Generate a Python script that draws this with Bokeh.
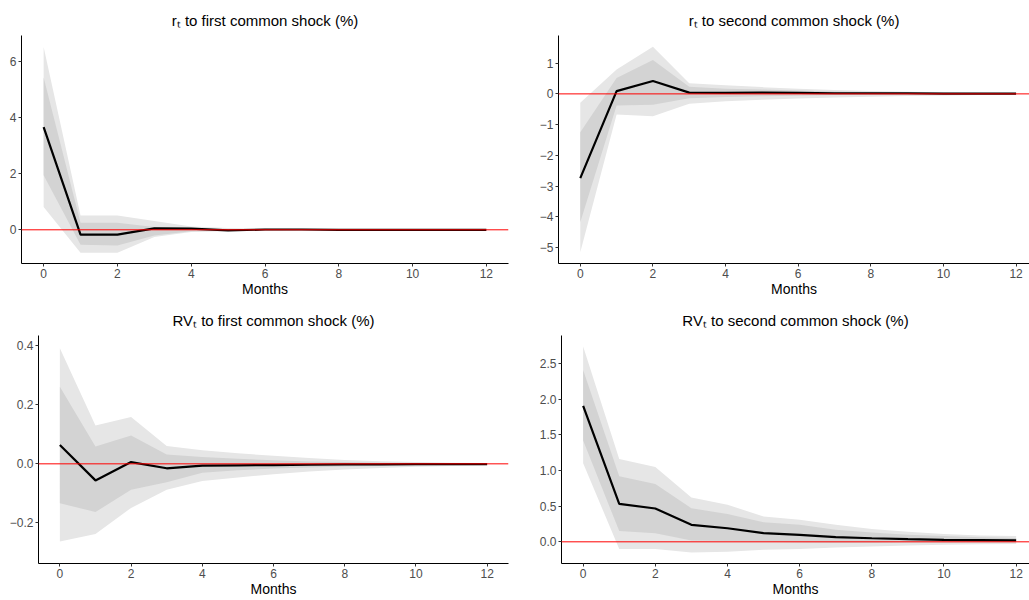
from bokeh.plotting import figure
from bokeh.layouts import column, row
from bokeh.models import Span, FixedTicker
from bokeh.embed import file_html
from bokeh.resources import INLINE

months = list(range(13))
x_ticks = [0, 2, 4, 6, 8, 10, 12]

# Panel 1: r_t to first common shock
r1_irf = [3.66, -0.17, -0.17, 0.05, 0.04, -0.02, 0.01, 0.01, 0.0, 0.0, 0.0, 0.0, 0.0]
r1_lo95 = [0.81, -0.82, -0.82, -0.26, -0.08, -0.05, -0.03, -0.02, -0.01, -0.01, -0.01, 0.0, 0.0]
r1_hi95 = [6.51, 0.51, 0.51, 0.31, 0.12, 0.06, 0.04, 0.03, 0.02, 0.01, 0.01, 0.01, 0.01]
r1_lo68 = [1.94, -0.53, -0.56, -0.20, -0.05, -0.03, -0.02, -0.01, -0.01, 0.0, 0.0, 0.0, 0.0]
r1_hi68 = [5.42, 0.25, 0.25, 0.10, 0.07, 0.03, 0.02, 0.01, 0.01, 0.01, 0.0, 0.0, 0.0]
r1_yticks = [0, 2, 4, 6]
r1_ylabels = ["0", "2", "4", "6"]

# Panel 2: r_t to second common shock
r2_irf = [-2.74, 0.09, 0.42, 0.04, 0.03, 0.04, 0.03, 0.02, 0.02, 0.02, 0.01, 0.01, 0.01]
r2_lo95 = [-5.15, -0.67, -0.73, -0.32, -0.24, -0.19, -0.15, -0.12, -0.09, -0.07, -0.05, -0.04, -0.03]
r2_hi95 = [-0.29, 0.79, 1.53, 0.35, 0.28, 0.22, 0.17, 0.13, 0.09, 0.07, 0.05, 0.04, 0.03]
r2_lo68 = [-4.18, -0.38, -0.35, -0.14, -0.10, -0.08, -0.06, -0.04, -0.03, -0.02, -0.015, -0.01, -0.01]
r2_hi68 = [-1.25, 0.52, 1.10, 0.23, 0.17, 0.14, 0.11, 0.08, 0.06, 0.04, 0.03, 0.02, 0.02]
r2_yticks = [-5, -4, -3, -2, -1, 0, 1]
r2_ylabels = ["\u22125", "\u22124", "\u22123", "\u22122", "\u22121", "0", "1"]

# Panel 3: RV_t to first common shock
rv1_irf = [0.064, -0.056, 0.006, -0.015, -0.006, -0.005, -0.004, -0.003, -0.002, -0.002, -0.001, -0.001, -0.001]
rv1_lo95 = [-0.263, -0.237, -0.149, -0.088, -0.058, -0.046, -0.035, -0.026, -0.019, -0.014, -0.010, -0.007, -0.005]
rv1_hi95 = [0.391, 0.130, 0.158, 0.060, 0.046, 0.036, 0.027, 0.020, 0.013, 0.009, 0.006, 0.004, 0.003]
rv1_lo68 = [-0.133, -0.163, -0.088, -0.062, -0.030, -0.022, -0.016, -0.012, -0.009, -0.007, -0.005, -0.004, -0.003]
rv1_hi68 = [0.261, 0.059, 0.096, 0.032, 0.023, 0.017, 0.012, 0.008, 0.006, 0.004, 0.003, 0.002, 0.001]
rv1_yticks = [-0.2, 0.0, 0.2, 0.4]
rv1_ylabels = ["\u22120.2", "0.0", "0.2", "0.4"]

# Panel 4: RV_t to second common shock
rv2_irf = [1.907, 0.533, 0.467, 0.238, 0.190, 0.122, 0.098, 0.065, 0.050, 0.037, 0.028, 0.023, 0.019]
rv2_lo95 = [1.10, -0.10, -0.10, -0.15, -0.14, -0.11, -0.10, -0.08, -0.065, -0.05, -0.04, -0.035, -0.03]
rv2_hi95 = [2.74, 1.16, 1.05, 0.62, 0.52, 0.355, 0.31, 0.24, 0.18, 0.14, 0.11, 0.09, 0.08]
rv2_lo68 = [1.42, 0.15, 0.12, 0.02, 0.01, 0.0, -0.01, -0.015, -0.015, -0.01, -0.01, -0.005, -0.005]
rv2_hi68 = [2.41, 0.92, 0.81, 0.47, 0.39, 0.275, 0.24, 0.17, 0.13, 0.10, 0.08, 0.065, 0.055]
rv2_yticks = [0.0, 0.5, 1.0, 1.5, 2.0, 2.5]
rv2_ylabels = ["0.0", "0.5", "1.0", "1.5", "2.0", "2.5"]

FONT = "Liberation Sans"


def make_panel(title, irf, lo95, hi95, lo68, hi68, yticks, ylabels, yr, x_end,
               width, height, bl, br, bt, bb):
    p = figure(width=width, height=height, x_range=(-0.6, x_end), y_range=yr,
               output_backend="svg", toolbar_location=None,
               min_border_left=bl, min_border_right=br,
               min_border_top=bt, min_border_bottom=bb)
    p.varea(x=months, y1=lo95, y2=hi95, fill_color="#E6E6E6")
    p.varea(x=months, y1=lo68, y2=hi68, fill_color="#D3D3D3")
    p.line(months, irf, line_color="black", line_width=2.2)
    p.add_layout(Span(location=0, dimension="width", line_color="#FF0000", line_width=1))

    p.title.text = title
    p.title.align = "center"
    p.title.text_font = FONT
    p.title.text_font_size = "15px"
    p.title.text_font_style = "normal"
    p.title.text_color = "black"
    p.title.standoff = 14

    p.xgrid.visible = False
    p.ygrid.visible = False
    p.outline_line_color = None

    p.xaxis.ticker = FixedTicker(ticks=x_ticks)
    p.yaxis.ticker = FixedTicker(ticks=yticks)
    p.yaxis.major_label_overrides = {t: l for t, l in zip(yticks, ylabels)}
    p.xaxis.axis_label = "Months"
    p.xaxis.axis_label_text_font = FONT
    p.xaxis.axis_label_text_font_size = "14px"
    p.xaxis.axis_label_text_font_style = "normal"
    p.xaxis.axis_label_text_color = "black"
    p.xaxis.axis_label_standoff = 0
    for ax in (p.xaxis, p.yaxis):
        ax.major_label_text_font = FONT
        ax.major_label_text_font_size = "12px"
        ax.major_label_text_color = "#4D4D4D"
        ax.major_label_standoff = 2
        ax.major_tick_out = 3
        ax.major_tick_in = 0
        ax.minor_tick_out = 0
        ax.minor_tick_in = 0
        ax.axis_line_color = "black"
        ax.axis_line_width = 1
        ax.major_tick_line_color = "#333333"
    return p


p1 = make_panel("r\u209c to first common shock (%)", r1_irf, r1_lo95, r1_hi95, r1_lo68, r1_hi68,
                r1_yticks, r1_ylabels, (-1.20, 6.92), 12.6, 514, 300, 21, 6, 35, 37)
p2 = make_panel("r\u209c to second common shock (%)", r2_irf, r2_lo95, r2_hi95, r2_lo68, r2_hi68,
                r2_yticks, r2_ylabels, (-5.52, 1.90), 12.37, 515, 300, 44, 0, 35, 37)
p3 = make_panel("RV\u209c to first common shock (%)", rv1_irf, rv1_lo95, rv1_hi95, rv1_lo68, rv1_hi68,
                rv1_yticks, rv1_ylabels, (-0.337, 0.434), 12.6, 514, 300, 38, 6, 35, 37)
p4 = make_panel("RV\u209c to second common shock (%)", rv2_irf, rv2_lo95, rv2_hi95, rv2_lo68, rv2_hi68,
                rv2_yticks, rv2_ylabels, (-0.304, 2.893), 12.37, 515, 300, 47, 0, 35, 37)

layout = column(row(p1, p2), row(p3, p4))

with open("out.html", "w") as f:
    f.write(file_html(layout, INLINE))
